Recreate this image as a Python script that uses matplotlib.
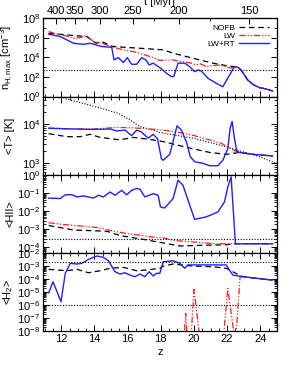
import numpy as np
import matplotlib
matplotlib.use('Agg')
import matplotlib.pyplot as plt
from matplotlib.ticker import LogLocator, NullFormatter, MultipleLocator, FixedLocator

plt.rcParams['font.family'] = ['Liberation Sans', 'DejaVu Sans']
plt.rcParams['mathtext.default'] = 'regular'
plt.rcParams['font.size'] = 8

# ---------------- data ----------------
# panel 1: maximum hydrogen density
z_n_rt = [11.24, 11.94, 12.34, 12.74, 13.34, 13.74, 14.44, 15.04, 15.18, 15.44, 15.74, 15.98,
          16.24, 16.54, 16.84, 17.10, 17.30, 17.54, 17.84, 17.94, 18.18, 18.34, 18.64, 18.78,
          19.04, 19.44, 19.74, 20.04, 20.24, 20.44, 20.84, 21.34, 21.74, 22.44, 22.64, 22.84,
          23.24, 23.54, 23.94, 24.34, 24.74]
n_rt = [2.4e6, 1.35e6, 6.2e5, 2.8e5, 2.2e5, 2.8e5, 1.3e5, 1.1e5, 5.6e3, 9.5e3, 3.0e3, 9.5e3,
        2.0e3, 2.0e3, 9.5e3, 5.6e3, 1.7e3, 2.6e3, 1.15e3, 9.1e2, 4.2e2, 2.4e2, 1.1e2, 1.1e2,
        2.6e3, 2.6e3, 1.15e3, 3.5e2, 5.2e2, 4.2e2, 74, 23, 10, 1.15e3, 1.0e3, 5.2e2,
        50, 18, 8.1, 6.0, 3.7]
z_n_lw = [11.24, 11.74, 12.24, 12.74, 13.14, 13.54, 13.74, 13.94, 14.44, 15.14, 15.74, 16.34,
          16.94, 17.54, 17.94, 18.74, 19.14, 19.84, 20.14, 20.40, 20.74, 21.14, 21.54, 21.94,
          22.24, 22.44, 22.64, 22.84, 23.24, 23.54, 23.94, 24.34, 24.74]
n_lw = [4.4e6, 2.4e6, 1.7e6, 9.1e5, 1.07e6, 1.7e6, 8.0e5, 4.2e5, 2.8e5, 1.1e5, 5.9e4, 4.0e4,
        2.1e4, 9.5e3, 5.0e3, 5.6e3, 4.0e3, 2.6e3, 1.7e3, 2.2e3, 1.15e3, 1.45e3, 1.7e3, 1.15e3,
        8.0e2, 1.15e3, 1.0e3, 5.2e2, 50, 18, 8.1, 6.0, 3.7]
z_n_nofb = [11.24, 12.34, 13.54, 14.10, 14.44, 15.04, 15.74, 16.74, 18.18, 18.74, 19.54, 20.34,
            21.14, 21.94, 22.44, 22.64, 22.84, 23.24, 23.54, 23.94, 24.34, 24.74]
n_nofb = [3.0e6, 2.0e6, 1.35e6, 2.8e5, 4.2e5, 1.4e5, 1.1e5, 8.7e4, 5.9e4, 2.7e4, 1.23e4, 5.6e3,
          2.6e3, 1.45e3, 1.15e3, 1.0e3, 5.2e2, 50, 18, 8.1, 6.0, 3.7]
n_ref = 500

# panel 2: mean temperature
z_T_rt = [11.24, 12.74, 13.94, 14.94, 15.34, 15.84, 16.24, 16.54, 16.80, 17.24, 17.54, 17.80,
          18.04, 18.14, 18.54, 18.98, 19.24, 19.54, 19.78, 20.04, 20.54, 20.94, 21.44, 21.74,
          22.04, 22.18, 22.30, 22.44, 22.58, 22.74, 23.54, 24.74]
T_rt = [7700, 7400, 7200, 7400, 6600, 6900, 5000, 6900, 6300, 4300, 5400, 4200,
        1260, 1170, 1660, 8900, 6900, 3500, 1450, 1070, 980, 850, 850, 1170,
        2300, 7700, 11500, 4300, 2000, 1860, 1660, 1510]
z_T_lw = [11.24, 12.74, 13.94, 15.34, 16.34, 17.34, 18.18, 19.14, 19.94, 20.94, 21.64, 22.24,
          22.64, 22.74, 23.54, 24.74]
T_lw = [7800, 7400, 7400, 8100, 7900, 7400, 6900, 6000, 5100, 3900, 3200, 2300,
        1860, 1860, 1660, 1510]
z_T_nofb = [11.24, 12.34, 13.14, 13.74, 14.34, 15.54, 16.34, 17.34, 18.18, 18.94, 19.94, 20.94,
            21.94, 22.74, 23.54, 24.74]
T_nofb = [5600, 4700, 4700, 5400, 4500, 3900, 4500, 4000, 3500, 2900, 2300, 1860,
          1660, 1860, 1660, 1510]
z_T_ref = [11.20, 12.04, 12.24, 13.74, 15.44, 16.14, 16.74, 17.54, 17.94, 19.94, 21.94, 23.94, 24.94]
T_ref = [7.1e4, 5.0e4, 4.4e4, 3.0e4, 1.86e4, 1.26e4, 8500, 6900, 6000, 4300, 2600, 1450, 980]

# panel 3: mean HII fraction
z_x_rt = [11.24, 11.94, 12.24, 12.64, 12.94, 13.34, 13.94, 14.24, 14.54, 14.94, 15.24, 15.64,
          15.94, 16.24, 16.54, 16.74, 17.04, 17.54, 17.84, 17.98, 18.24, 18.74, 19.04, 19.34,
          19.64, 20.04, 20.74, 21.44, 21.84, 22.04, 22.24, 22.50, 24.74]
x_rt = [0.052, 0.049, 0.079, 0.079, 0.060, 0.068, 0.052, 0.074, 0.060, 0.112, 0.074, 0.138,
        0.079, 0.138, 0.174, 0.16, 0.060, 0.091, 0.074, 0.017, 0.0148, 0.049, 0.50, 0.26,
        0.040, 0.0035, 0.0048, 0.0089, 0.032, 0.21, 0.76, 1.6e-4, 1.6e-4]
z_x_lw = [11.24, 11.94, 14.14, 14.94, 15.94, 16.74, 17.54, 18.18, 18.74, 19.94, 21.34, 22.50, 24.74]
x_lw = [2.3e-3, 1.9e-3, 1.26e-3, 8.7e-4, 5.8e-4, 4.7e-4, 3.7e-4, 3.3e-4, 2.45e-4, 2.0e-4,
        1.6e-4, 1.6e-4, 1.6e-4]
z_x_nofb = [11.24, 12.74, 14.74, 15.54, 16.74, 18.18, 19.14, 20.54, 21.94, 22.50, 24.74]
x_nofb = [1.6e-3, 9.1e-4, 7.8e-4, 4.5e-4, 3.0e-4, 1.74e-4, 1.2e-4, 1.32e-4, 1.4e-4, 1.6e-4, 1.6e-4]
x_ref = 3e-4

# panel 4: mean H2 fraction
z_h2_rt = [11.24, 11.50, 11.98, 12.24, 12.54, 12.94, 13.24, 13.64, 14.14, 14.54, 14.84, 15.24,
           15.54, 15.84, 16.14, 16.44, 16.74, 17.04, 17.30, 17.54, 17.74, 17.94, 18.14, 18.74,
           19.14, 19.44, 19.64, 21.94, 22.14, 22.34, 22.94, 24.34, 24.74]
h2_rt = [8.7e-6, 6.2e-5, 1.8e-6, 2.7e-4, 1.6e-3, 1.4e-3, 1.6e-3, 3.2e-3, 5.8e-3, 4.6e-3, 2.5e-3, 3.6e-4,
         2.4e-4, 3.0e-4, 2.0e-4, 1.5e-4, 2.4e-4, 1.5e-4, 3.6e-4, 1.7e-4, 2.7e-4, 2.7e-4, 2.1e-3, 2.5e-3,
         1.6e-3, 6.6e-4, 1.2e-3, 1.2e-3, 4.9e-4, 2.0e-4, 1.5e-4, 9.3e-5, 8.3e-5]
z_h2_lw = [11.24, 19.30, 19.38, 19.50, 19.62, 19.80, 20.00, 20.40, 21.74, 22.04, 22.50, 22.78,
           22.94, 24.34, 24.74]
h2_lw = [1e-12, 1e-12, 1e-9, 2.3e-7, 1e-9, 1e-9, 1.6e-5, 1e-9, 1e-9, 1.9e-5, 1e-9, 1.5e-4,
         1.5e-4, 9.3e-5, 8.3e-5]
z_h2_nofb = [11.24, 12.34, 12.94, 13.64, 14.34, 14.94, 15.74, 16.54, 17.14, 17.94, 18.14, 18.74,
             19.94, 21.14, 21.94, 22.34, 22.74, 22.94, 24.34, 24.74]
h2_nofb = [5.5e-4, 4.3e-4, 5.5e-4, 3.0e-4, 4.3e-4, 6.6e-4, 7.8e-4, 4.3e-4, 4.9e-4, 6.6e-4, 9.8e-4, 1.4e-3,
           9.8e-4, 8.7e-4, 6.6e-4, 3.6e-4, 2.0e-4, 1.5e-4, 9.3e-5, 8.3e-5]
h2_refs = [2e-3, 1e-6]

t_ticks = [400, 350, 300, 250, 200, 150]
t_minor = [375, 325, 275, 225, 175]

# ---------------- styles ----------------
blue = '#1f1fff'
red = '#ff1a1a'
sty_nofb = dict(color='black', lw=0.9, dashes=(4.5, 3))
sty_lw = dict(color=red, lw=0.9, dashes=(5, 1.5, 1, 1.5, 1, 1.5))
sty_rt = dict(color=blue, lw=1.0)
sty_ref = dict(color='black', lw=0.8, dashes=(1, 1.5))

fig, axes = plt.subplots(4, 1, figsize=(2.93, 3.90), dpi=100, sharex=True,
                         gridspec_kw=dict(hspace=0))
fig.subplots_adjust(left=0.147, right=0.945, bottom=0.151, top=0.953)

ax1, ax2, ax3, ax4 = axes

# n_H,max
ax1.plot(z_n_nofb, n_nofb, label='NOFB', **sty_nofb)
ax1.plot(z_n_lw, n_lw, label='LW', **sty_lw)
ax1.plot(z_n_rt, n_rt, label='LW+RT', **sty_rt)
ax1.axhline(n_ref, **sty_ref)
ax1.set_ylim(1, 1e8)
ax1.set_ylabel(r'n$_{H,max}$ [cm$^{-3}$]')

# <T>
ax2.plot(z_T_ref, T_ref, **sty_ref)
ax2.plot(z_T_nofb, T_nofb, **sty_nofb)
ax2.plot(z_T_lw, T_lw, **sty_lw)
ax2.plot(z_T_rt, T_rt, **sty_rt)
ax2.set_ylim(500, 5e4)
ax2.set_ylabel('<T> [K]')

# <HII>
ax3.plot(z_x_nofb, x_nofb, **sty_nofb)
ax3.plot(z_x_lw, x_lw, **sty_lw)
ax3.plot(z_x_rt, x_rt, **sty_rt)
ax3.axhline(x_ref, **sty_ref)
ax3.set_ylim(5e-5, 1)
ax3.set_ylabel('<HII>')

# <H2>
ax4.plot(z_h2_nofb, h2_nofb, **sty_nofb)
ax4.plot(z_h2_lw, h2_lw, **sty_lw)
ax4.plot(z_h2_rt, h2_rt, **sty_rt)
for h in h2_refs:
    ax4.axhline(h, **sty_ref)
ax4.set_ylim(1e-8, 1e-2)
ax4.set_ylabel('<H$_2$>')
ax4.set_xlabel('z', labelpad=2)

for ax in axes:
    ax.set_yscale('log')
    ax.set_xlim(10.9, 25.0)
    ax.xaxis.set_major_locator(MultipleLocator(2))
    ax.xaxis.set_minor_locator(MultipleLocator(0.5))
    ax.yaxis.set_major_locator(LogLocator(base=10, numticks=20))
    ax.yaxis.set_minor_locator(LogLocator(base=10, subs=np.arange(2, 10), numticks=20))
    ax.yaxis.set_minor_formatter(NullFormatter())
    ax.tick_params(which='both', direction='in', right=True, top=(ax is not ax1),
                   labelsize=8, pad=2)
    ax.tick_params(which='major', length=4.5, width=0.7)
    ax.tick_params(which='minor', length=2.2, width=0.6)
    for sp in ax.spines.values():
        sp.set_linewidth(0.9)
    ax.yaxis.set_label_coords(-0.12, 0.5)

# density panel: labels every second decade, plain ticks in between
ax1.yaxis.set_major_locator(FixedLocator([1e0, 1e2, 1e4, 1e6, 1e8]))
ax1.yaxis.set_minor_locator(FixedLocator([1e1, 1e3, 1e5, 1e7]))


def z2t(z):
    z = np.asarray(z, dtype=float)
    return 18000.0 * np.clip(1 + z, 1e-3, None) ** -1.5


def t2z(t):
    t = np.asarray(t, dtype=float)
    return (18000.0 / np.clip(t, 1e-3, None)) ** (2.0 / 3.0) - 1


sec = ax1.secondary_xaxis('top', functions=(z2t, t2z))
sec.xaxis.set_major_locator(FixedLocator(t_ticks))
sec.xaxis.set_minor_locator(FixedLocator(t_minor))
sec.tick_params(which='both', direction='in', labelsize=8, pad=1.5)
sec.tick_params(which='major', length=4.5, width=0.7)
sec.tick_params(which='minor', length=2.2, width=0.6)
sec.set_xlabel('t [Myr]', labelpad=1)

leg = ax1.legend(loc='upper right', bbox_to_anchor=(0.965, 0.93), frameon=False,
                 markerfirst=False, fontsize=6, handlelength=3.6, labelspacing=0.05,
                 handletextpad=0.4, borderaxespad=0, borderpad=0)

fig.savefig('out.png', dpi=100)
